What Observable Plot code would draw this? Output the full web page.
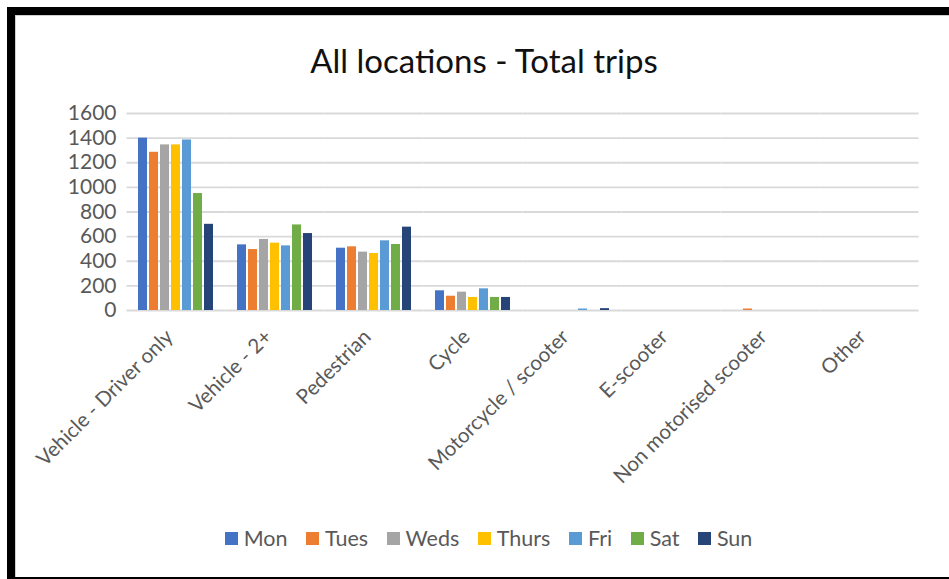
<!DOCTYPE html>
<html>
<head>
<meta charset="utf-8">
<script src="https://cdn.jsdelivr.net/npm/d3@7"></script>
<script src="https://cdn.jsdelivr.net/npm/@observablehq/plot@0.6"></script>
<style>
  html, body { margin: 0; padding: 0; background: #fff; overflow: hidden; }
  body { width: 949px; height: 579px; position: relative; font-family: "Lato", "Open Sans", sans-serif; }
  #frame {
    position: absolute; left: 7px; top: 7px; width: 960px; height: 562px;
    border: 8px solid #000; box-shadow: inset 1px 1px 0 #cfcfcf; pointer-events: none; z-index: 5;
  }
  #title {
    position: absolute; left: 0; top: 39px; width: 968px; text-align: center;
    font-size: 33px; color: #111; line-height: 42px;
  }
  #chart { position: absolute; left: 0; top: 0; }
  #legend {
    position: absolute; left: 0; top: 525px; width: 977px;
    display: flex; justify-content: center; align-items: center;
    font-size: 21.5px; color: #595959; line-height: 26px;
  }
  #legend .item { display: flex; align-items: center; margin: 0 9.25px; }
  #legend .sw { width: 13px; height: 13px; margin-right: 6px; }
</style>
</head>
<body>
<div id="frame"></div>
<div id="title">All locations - Total trips</div>
<div id="chart"></div>
<div id="legend"></div>
<script>
// Travel modes along the category axis
const modes = [
  "Vehicle - Driver only", "Vehicle - 2+", "Pedestrian", "Cycle",
  "Motorcycle / scooter", "E-scooter", "Non motorised scooter", "Other"
];
const days = ["Mon", "Tues", "Weds", "Thurs", "Fri", "Sat", "Sun"];
const dayColors = ["#4472C4", "#ED7D31", "#A5A5A5", "#FFC000", "#5B9BD5", "#70AD47", "#264478"];

// Total trips per mode, one array per day (same order as modes)
const mon   = [1400, 533, 506, 160, 0, 0, 0, 0];
const tues  = [1285, 495, 517, 116, 0, 0, 12, 0];
const weds  = [1345, 577, 474, 149, 0, 0, 0, 0];
const thurs = [1345, 547, 463, 106, 0, 0, 0, 0];
const fri   = [1385, 525, 566, 176, 12, 0, 0, 0];
const sat   = [950, 695, 536, 106, 0, 0, 0, 0];
const sun   = [700, 625, 677, 106, 15, 0, 0, 0];

const yTicks = [0, 200, 400, 600, 800, 1000, 1200, 1400, 1600];

const series = [mon, tues, weds, thurs, fri, sat, sun];
const rows = [];
modes.forEach((mode, i) => {
  days.forEach((day, j) => rows.push({mode, day, value: series[j][i]}));
});

const chart = Plot.plot({
  width: 949,
  height: 500,
  marginLeft: 123,
  marginRight: 27,
  marginTop: 113,
  marginBottom: 190,
  style: {background: "transparent", fontFamily: "Lato, 'Open Sans', sans-serif"},
  fx: {domain: modes, paddingInner: 0.21, paddingOuter: 0.105, label: null},
  x: {domain: days, paddingInner: 0.18, paddingOuter: 0, axis: null},
  y: {domain: [0, 1600], label: null},
  color: {domain: days, range: dayColors},
  marks: [
    Plot.ruleY(yTicks, {stroke: "#d9d9d9", strokeWidth: 1.8, insetLeft: -10.5, insetRight: -10.5}),
    Plot.barY(rows, {fx: "mode", x: "day", y: "value", fill: "day"}),
    Plot.axisY({ticks: yTicks, tickFormat: d => String(d), tickSize: 0, tickPadding: 21, fontSize: 21, color: "#595959", label: null}),
    Plot.axisFx({anchor: "bottom", tickRotate: -45, tickSize: 0, tickPadding: 17, dx: -7, dy: 6, fontSize: 20.5, color: "#595959", label: null})
  ]
});
document.getElementById("chart").appendChild(chart);

// Legend row
const legend = document.getElementById("legend");
days.forEach((d, i) => {
  const item = document.createElement("div");
  item.className = "item";
  const sw = document.createElement("span");
  sw.className = "sw";
  sw.style.background = dayColors[i];
  const label = document.createElement("span");
  label.textContent = d;
  item.appendChild(sw);
  item.appendChild(label);
  legend.appendChild(item);
});
</script>
</body>
</html>
